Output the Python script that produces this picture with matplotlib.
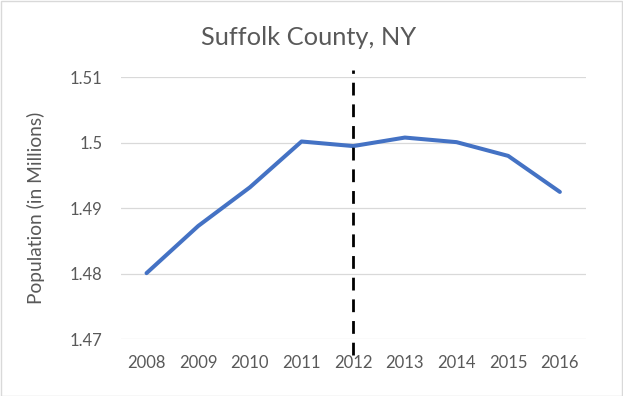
import matplotlib
matplotlib.use("Agg")
import matplotlib.pyplot as plt
import numpy as np

years = ["2008", "2009", "2010", "2011", "2012", "2013", "2014", "2015", "2016"]
population = [1.4801, 1.4873, 1.4932, 1.5002, 1.4995, 1.5008, 1.5001, 1.4980, 1.4925]
yticks = [1.47, 1.48, 1.49, 1.50, 1.51]
ytick_labels = ["1.47", "1.48", "1.49", "1.5", "1.51"]
marker_year = "2012"
marker_range = [1.4676, 1.5111]

plt.rcParams['font.family'] = ['Lato', 'DejaVu Sans']

W, H = 623, 396
fig = plt.figure(figsize=(W / 100, H / 100), dpi=100)
fig.patch.set_facecolor("white")

left, right, top, bottom = 120.7, 585.7, 77.3, 339.3
ax = fig.add_axes([left / W, 1 - bottom / H, (right - left) / W, (bottom - top) / H])

x = np.arange(len(years))
ax.set_xlim(-0.5, len(years) - 0.5)
ax.set_ylim(yticks[0], yticks[-1])

for yv in yticks:
    ax.axhline(yv, color="#D9D9D9", lw=0.9, zorder=1)

ax.plot(x, population, color="#4472C4", lw=2.9, solid_capstyle="round", solid_joinstyle="round", zorder=3)

mx = years.index(marker_year)
ax.plot([mx, mx], marker_range, color="black", lw=2.0, linestyle=(0, (4.6, 3.2)),
        clip_on=False, zorder=4)

ax.set_xticks(x)
ax.set_xticklabels(years)
ax.set_yticks(yticks)
ax.set_yticklabels(ytick_labels)
ax.tick_params(axis="both", length=0, labelsize=12, colors="#595959")
ax.tick_params(axis="x", pad=11)
ax.tick_params(axis="y", pad=13)
for s in ax.spines.values():
    s.set_visible(False)
ax.grid(False)

ax.set_ylabel("Population (in Millions)", fontsize=13.8, color="#595959", labelpad=18)
fig.text(308.5 / W, 1 - 45 / H, "Suffolk County, NY", ha="center", va="baseline",
         fontsize=18.3, color="#595959")

# outer border
fig.patches.append(plt.Rectangle((0.5 / W, 0.5 / H), 1 - 1.5 / W, 1 - 1.5 / H, transform=fig.transFigure,
                                 fill=False, edgecolor="#D9D9D9", lw=1))

fig.savefig("out.png", dpi=100, facecolor="white")
